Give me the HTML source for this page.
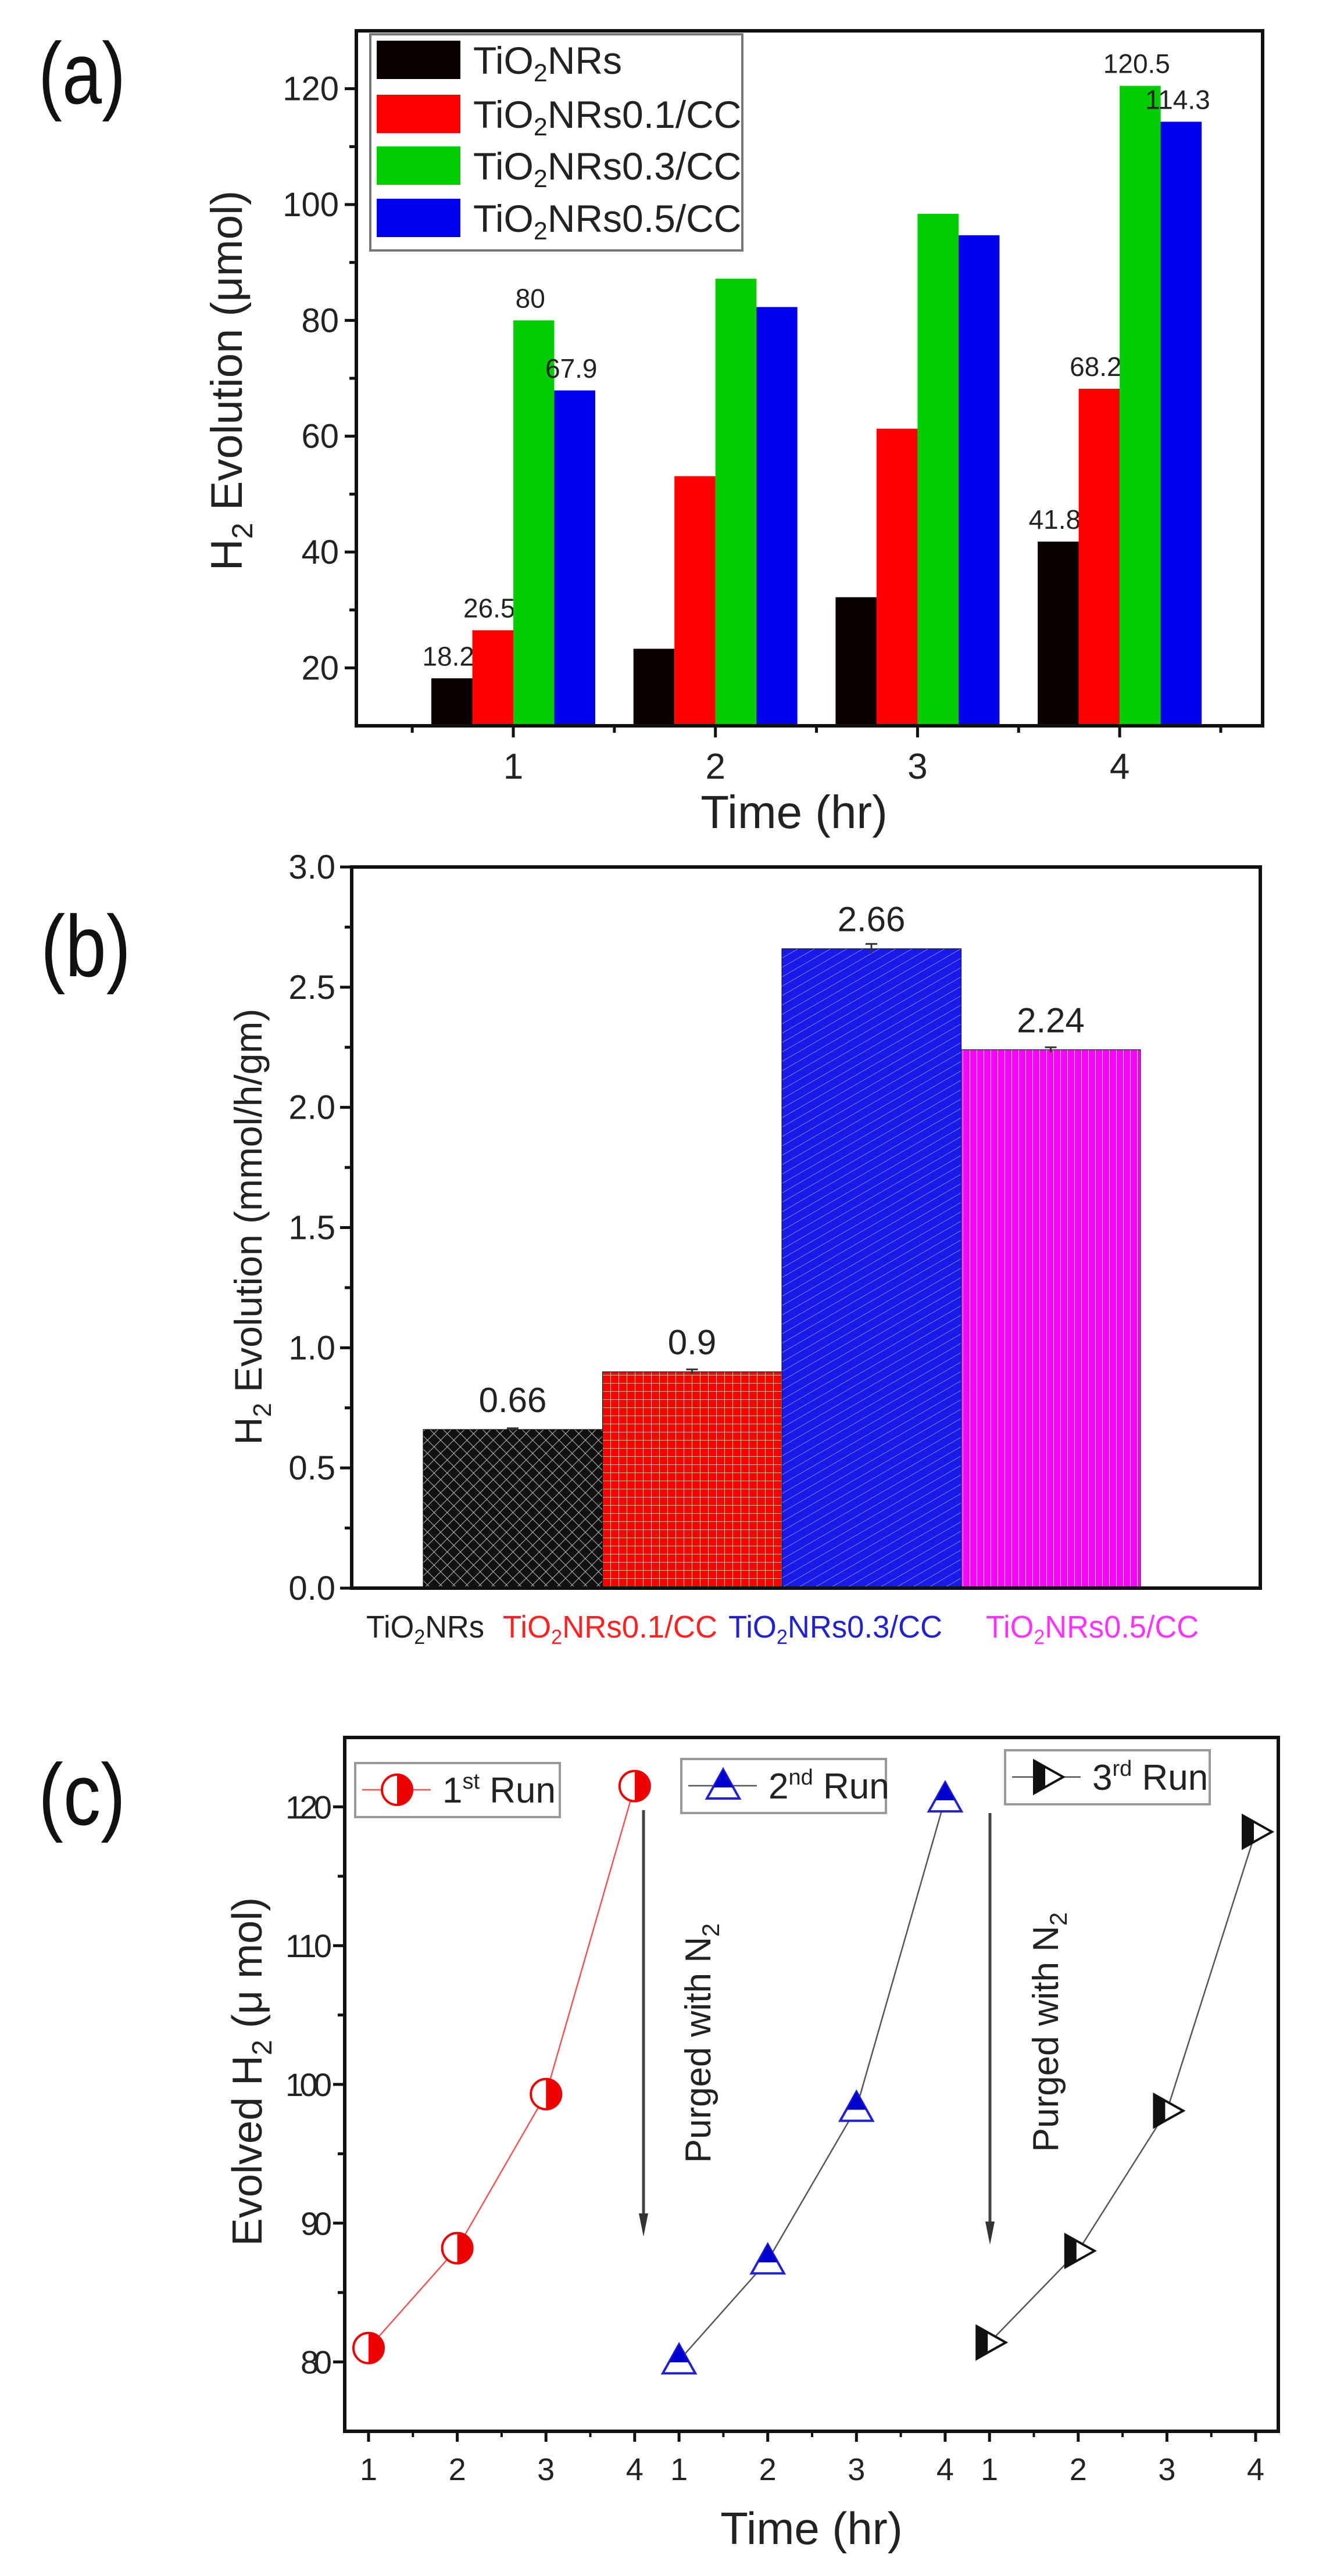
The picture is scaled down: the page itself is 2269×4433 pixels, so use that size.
<!DOCTYPE html>
<html><head><meta charset="utf-8"><style>
html,body{margin:0;padding:0;background:#fff;}
svg{display:block;font-family:"Liberation Sans",sans-serif;}
</style></head><body>
<svg id="fig" xmlns="http://www.w3.org/2000/svg" width="2269" height="4433" viewBox="0 0 2269 4433">
<defs>
<pattern id="patBlack" width="16" height="16" patternUnits="userSpaceOnUse" patternTransform="rotate(45)"><rect width="16" height="16" fill="#111"/><path d="M0 0H16M0 0V16" stroke="#bbb" stroke-width="2"/></pattern>
<pattern id="patRed" width="14" height="14" patternUnits="userSpaceOnUse"><rect width="14" height="14" fill="#f00"/><path d="M0 0H14M0 0V14" stroke="#ffaaaa" stroke-width="2"/></pattern>
<pattern id="patBlue" width="14" height="14" patternUnits="userSpaceOnUse" patternTransform="rotate(-30)"><rect width="14" height="14" fill="#1a1ae6"/><path d="M0 0H14" stroke="#8080ff" stroke-width="2"/></pattern>
<pattern id="patMag" width="12" height="12" patternUnits="userSpaceOnUse"><rect width="12" height="12" fill="#f0f"/><path d="M0 0V12" stroke="#ffb0ff" stroke-width="2"/></pattern>
</defs>
</svg>
<script>
// ---------- Panel (a) data ----------
const aCategories = [1, 2, 3, 4];
const aSeriesNames = ["TiO2NRs", "TiO2NRs0.1/CC", "TiO2NRs0.3/CC", "TiO2NRs0.5/CC"];
const aBlack = [18.2, 23.3, 32.2, 41.8];
const aRed = [26.5, 53.1, 61.3, 68.2];
const aGreen = [80, 87.2, 98.4, 120.5];
const aBlue = [67.9, 82.3, 94.7, 114.3];
const aLabelBlack = ["18.2", "", "", "41.8"];
const aLabelRed = ["26.5", "", "", "68.2"];
const aLabelGreen = ["80", "", "", "120.5"];
const aLabelBlue = ["67.9", "", "", "114.3"];
const aYTicks = [20, 40, 60, 80, 100, 120];
// ---------- Panel (b) data ----------
const bCategories = ["TiO2NRs", "TiO2NRs0.1/CC", "TiO2NRs0.3/CC", "TiO2NRs0.5/CC"];
const bValues = [0.66, 0.9, 2.66, 2.24];
const bErrors = [0.005, 0.01, 0.02, 0.01];
const bLabels = ["0.66", "0.9", "2.66", "2.24"];
const bYTicks = [0.0, 0.5, 1.0, 1.5, 2.0, 2.5, 3.0];
// ---------- Panel (c) data ----------
const cTimes = [1, 2, 3, 4];
const cRun1 = [81.0, 88.2, 99.3, 121.5];
const cRun2 = [80.1, 87.3, 98.3, 120.6];
const cRun3 = [81.4, 88.0, 98.1, 118.2];
const cYTicks = [80, 90, 100, 110, 120];

const NS = "http://www.w3.org/2000/svg";
const svg = document.getElementById("fig");
function mk(tag, attrs, parent) {
  const e = document.createElementNS(NS, tag);
  for (const k in attrs) e.setAttribute(k, attrs[k]);
  (parent || svg).appendChild(e);
  return e;
}
function tiText(parent, x, y, size, fill, rest, len) {
  const at = {x: x, y: y, "font-size": size, fill: fill};
  if (len) { at.textLength = len; at.lengthAdjust = "spacingAndGlyphs"; }
  const t = mk("text", at, parent);
  t.appendChild(document.createTextNode("TiO"));
  const s = mk("tspan", {"font-size": size * 0.65, dy: size * 0.2}, t);
  s.textContent = "2";
  const r = mk("tspan", {dy: -size * 0.2}, t);
  r.textContent = rest;
  return t;
}

// ================= PANEL A =================
const A = {l: 613, r: 2172, t: 53, b: 1249, y0: 10, y1: 130};
function ya(v) { return A.b - (v - A.y0) * (A.b - A.t) / (A.y1 - A.y0); }
function xa(c) { return 883 + (c - 1) * 347.7; }
const gA = mk("g", {});


let el = mk("text", {x: 66, y: 178, "font-size": 150, fill: "#111", textLength: 150, lengthAdjust: "spacingAndGlyphs"}, gA);
el.textContent = "(a)";


const aSeries = [aBlack, aRed, aGreen, aBlue];
const aLabelSets = [aLabelBlack, aLabelRed, aLabelGreen, aLabelBlue];
const aColors = ["#0a0000", "#f00", "#0c0", "#00e"];
const barW = 70.5;
aSeries.forEach((ser, s) => {
  ser.forEach((v, i) => {
    const x = xa(aCategories[i]) - 141 + s * barW;
    const rc = mk("rect", {x: x, y: ya(v), width: barW, height: A.b - ya(v), fill: aColors[s]}, gA);
    
    
    if (aLabelSets[s][i]) {
      const t = mk("text", {x: x + barW / 2 - 6, y: ya(v) - 22, "font-size": 46, fill: "#222", "text-anchor": "middle"}, gA);
      t.textContent = aLabelSets[s][i];
      
      
    }
  });
});
el = mk("rect", {x: A.l, y: A.t, width: A.r - A.l, height: A.b - A.t, fill: "none", stroke: "#111", "stroke-width": 6}, gA);


for (let v = 20; v <= 120; v += 10) {
  const major = v % 20 === 0;
  const tk = mk("line", {x1: A.l, x2: A.l - (major ? 20 : 12), y1: ya(v), y2: ya(v), stroke: "#111", "stroke-width": 5}, gA);
  
  
}
aYTicks.forEach(v => {
  const t = mk("text", {x: A.l - 30, y: ya(v) + 20, "font-size": 58, fill: "#222", "text-anchor": "end"}, gA);
  t.textContent = v;
  
  
});
for (let c = 0.5; c <= 4.5; c += 0.5) {
  const major = Number.isInteger(c);
  const tk = mk("line", {x1: xa(c), x2: xa(c), y1: A.b, y2: A.b + (major ? 20 : 12), stroke: "#111", "stroke-width": 5}, gA);
  
  
}
aCategories.forEach(c => {
  const t = mk("text", {x: xa(c), y: 1340, "font-size": 62, fill: "#222", "text-anchor": "middle"}, gA);
  t.textContent = c;
  
  
});
el = mk("text", {x: 1366, y: 1425, "font-size": 80, fill: "#222", "text-anchor": "middle"}, gA);
el.textContent = "Time (hr)";


el = mk("text", {x: 0, y: 0, "font-size": 76, fill: "#222", "text-anchor": "middle", transform: "translate(416 655) rotate(-90)"}, gA);
el.innerHTML = 'H<tspan font-size="50" dy="18">2</tspan><tspan dy="-18"> Evolution (μmol)</tspan>';


const legA = mk("g", {}, gA);


mk("rect", {x: 637, y: 59, width: 640, height: 372, fill: "#fff", stroke: "#777", "stroke-width": 4}, legA);
const legRowsY = [103, 196, 285, 375];
aSeriesNames.forEach((n, s) => {
  const sw = mk("rect", {x: 648, y: legRowsY[s] - 33, width: 144, height: 66, fill: aColors[s]}, legA);
  
  
  const t = tiText(legA, 814, legRowsY[s] + 24, 66, "#222", n.slice(4));
  
  
});

// ================= PANEL B =================
const B = {l: 605, r: 2168, t: 1492, b: 2733, y0: 0, y1: 3};
function yb(v) { return B.b - (v - B.y0) * (B.b - B.t) / (B.y1 - B.y0); }
function xb(i) { return 728 + i * 308.5; }
const gB = mk("g", {});


el = mk("text", {x: 70, y: 1680, "font-size": 150, fill: "#111", textLength: 155, lengthAdjust: "spacingAndGlyphs"}, gB);
el.textContent = "(b)";


const bFills = ["url(#patBlack)", "url(#patRed)", "url(#patBlue)", "url(#patMag)"];
const bTextColors = ["#222", "#f22", "#22c", "#f3f"];
const bLabelX = [630, 865, 1253, 1696];
const bLabelLen = [203, 369, 368, 366];
bValues.forEach((v, i) => {
  const rc = mk("rect", {x: xb(i), y: yb(v), width: 308.5, height: B.b - yb(v), fill: bFills[i], stroke: "#000", "stroke-width": 1}, gB);
  
  
  const cx = xb(i) + 154;
  const eb = mk("path", {d: `M${cx} ${yb(v + bErrors[i])}V${yb(v - bErrors[i])}M${cx - 10} ${yb(v + bErrors[i])}H${cx + 10}`, stroke: "#333", "stroke-width": 3, fill: "none"}, gB);
  
  
  const t = mk("text", {x: cx, y: yb(v) - 30, "font-size": 60, fill: "#222", "text-anchor": "middle"}, gB);
  t.textContent = bLabels[i];
  
  
  const ct = tiText(gB, bLabelX[i], 2818, 54, bTextColors[i], bCategories[i].slice(4), bLabelLen[i]);
  
  
});
el = mk("path", {d: `M${B.l} ${B.t}H${B.r}V${B.b}H${B.l}Z`, fill: "none", stroke: "#111", "stroke-width": 6}, gB);


for (let v = 0; v <= 3.001; v += 0.25) {
  const major = Math.abs(v * 2 - Math.round(v * 2)) < 1e-6;
  const tk = mk("line", {x1: B.l, x2: B.l - (major ? 20 : 12), y1: yb(v), y2: yb(v), stroke: "#111", "stroke-width": 5}, gB);
  
  
}
bYTicks.forEach(v => {
  const t = mk("text", {x: B.l - 28, y: yb(v) + 20, "font-size": 58, fill: "#222", "text-anchor": "end"}, gB);
  t.textContent = v.toFixed(1);
  
  
});
el = mk("text", {x: 0, y: 0, "font-size": 66, fill: "#222", "text-anchor": "middle", transform: "translate(450 2111) rotate(-90)"}, gB);
el.innerHTML = 'H<tspan font-size="44" dy="16">2</tspan><tspan dy="-16"> Evolution (mmol/h/gm)</tspan>';



// ================= PANEL C =================
const C = {l: 593, r: 2199, t: 2990, b: 4184, y0: 75, y1: 125};
function yc(v) { return C.b - (v - C.y0) * (C.b - C.t) / (C.y1 - C.y0); }
function xc(run, t) { return 634 + (run * 3.5 + (t - 1)) * 152.6; }
const gC = mk("g", {});


el = mk("text", {x: 66, y: 3140, "font-size": 150, fill: "#111", textLength: 150, lengthAdjust: "spacingAndGlyphs"}, gC);
el.textContent = "(c)";


el = mk("rect", {x: C.l, y: C.t, width: C.r - C.l, height: C.b - C.t, fill: "none", stroke: "#111", "stroke-width": 6}, gC);


for (let v = 80; v <= 120; v += 5) {
  const major = v % 10 === 0;
  const tk = mk("line", {x1: C.l, x2: C.l - (major ? 20 : 12), y1: yc(v), y2: yc(v), stroke: "#111", "stroke-width": 5}, gC);
  
  
}
cYTicks.forEach(v => {
  const t = mk("text", {x: C.l - 22, y: yc(v) + 20, "font-size": 56, fill: "#222", "text-anchor": "end", textLength: v >= 100 ? 80 : 54}, gC);
  t.textContent = v;
  
  
});
for (let run = 0; run < 3; run++) {
  cTimes.forEach(tm => {
    const tk = mk("line", {x1: xc(run, tm), x2: xc(run, tm), y1: C.b, y2: C.b + 18, stroke: "#111", "stroke-width": 5}, gC);
    
    
    if (tm < 4) {
      const mt = mk("line", {x1: xc(run, tm + 0.5), x2: xc(run, tm + 0.5), y1: C.b, y2: C.b + 10, stroke: "#111", "stroke-width": 4}, gC);
      
      
    }
    const t = mk("text", {x: xc(run, tm), y: 4268, "font-size": 54, fill: "#222", "text-anchor": "middle"}, gC);
    t.textContent = tm;
    
    
  });
}
el = mk("text", {x: 1396, y: 4378, "font-size": 78, fill: "#222", "text-anchor": "middle"}, gC);
el.textContent = "Time (hr)";


el = mk("text", {x: 0, y: 0, "font-size": 72, fill: "#222", "text-anchor": "middle", transform: "translate(450 3565) rotate(-90)"}, gC);
el.innerHTML = 'Evolved H<tspan font-size="48" dy="17">2</tspan><tspan dy="-17"> (μ mol)</tspan>';



function circleMarker(p, x, y) {
  mk("circle", {cx: x, cy: y, r: 26, fill: "#fff", stroke: "#e00", "stroke-width": 4}, p);
  mk("path", {d: `M${x} ${y - 26}A26 26 0 0 1 ${x} ${y + 26}Z`, fill: "#e00"}, p);
}
function triUpMarker(p, x, y) {
  mk("path", {d: `M${x} ${y - 28}L${x + 28} ${y + 22}H${x - 28}Z`, fill: "#fff", stroke: "#22c", "stroke-width": 4}, p);
  mk("path", {d: `M${x} ${y - 28}L${x + 17} ${y + 3}H${x - 17}Z`, fill: "#00c"}, p);
}
function triRightMarker(p, x, y) {
  mk("path", {d: `M${x - 22} ${y - 28}L${x + 28} ${y}L${x - 22} ${y + 28}Z`, fill: "#fff", stroke: "#111", "stroke-width": 4}, p);
  mk("path", {d: `M${x - 22} ${y - 28}L${x - 3} ${y - 17}V${y + 17}L${x - 22} ${y + 28}Z`, fill: "#111"}, p);
}
const runs = [cRun1, cRun2, cRun3];
const runLine = ["#e55", "#555", "#555"];
const runMarker = [circleMarker, triUpMarker, triRightMarker];
runs.forEach((ser, r) => {
  const pts = ser.map((v, i) => xc(r, cTimes[i]) + "," + yc(v)).join(" ");
  const ln = mk("polyline", {points: pts, fill: "none", stroke: runLine[r], "stroke-width": 2.5}, gC);
  
  
  ser.forEach((v, i) => {
    const g = mk("g", {}, gC);
    
    
    runMarker[r](g, xc(r, cTimes[i]), yc(v));
  });
});
[[1107, 3115, 3849], [1703, 3120, 3863]].forEach(a => {
  const g = mk("g", {}, gC);
  
  
  mk("line", {x1: a[0], x2: a[0], y1: a[1], y2: a[2] - 30, stroke: "#444", "stroke-width": 5}, g);
  mk("path", {d: `M${a[0] - 8} ${a[2] - 40}L${a[0]} ${a[2]}L${a[0] + 8} ${a[2] - 40}Z`, fill: "#333"}, g);
});
[[1222, 3516], [1820, 3497]].forEach(p => {
  const t = mk("text", {x: 0, y: 0, "font-size": 62, fill: "#222", "text-anchor": "middle", transform: `translate(${p[0]} ${p[1]}) rotate(-90)`}, gC);
  t.innerHTML = 'Purged with N<tspan font-size="42" dy="15">2</tspan>';
  
  
});
const legBoxes = [[611, 3034], [1172, 3027], [1729, 3012]];
const legSup = ["st", "nd", "rd"];
const legNum = ["1", "2", "3"];
legBoxes.forEach((b, r) => {
  const g = mk("g", {}, gC);
  
  
  mk("rect", {x: b[0], y: b[1], width: 352, height: 93, fill: "#fff", stroke: "#999", "stroke-width": 4}, g);
  const cy = b[1] + 46;
  mk("line", {x1: b[0] + 12, x2: b[0] + 130, y1: cy, y2: cy, stroke: runLine[r], "stroke-width": 2.5}, g);
  runMarker[r](g, b[0] + 72, cy);
  const t = mk("text", {x: b[0] + 150, y: cy + 22, "font-size": 62, fill: "#222"}, g);
  t.innerHTML = legNum[r] + '<tspan font-size="38" dy="-24">' + legSup[r] + '</tspan><tspan dy="24"> Run</tspan>';
});
</script>
</body></html>
